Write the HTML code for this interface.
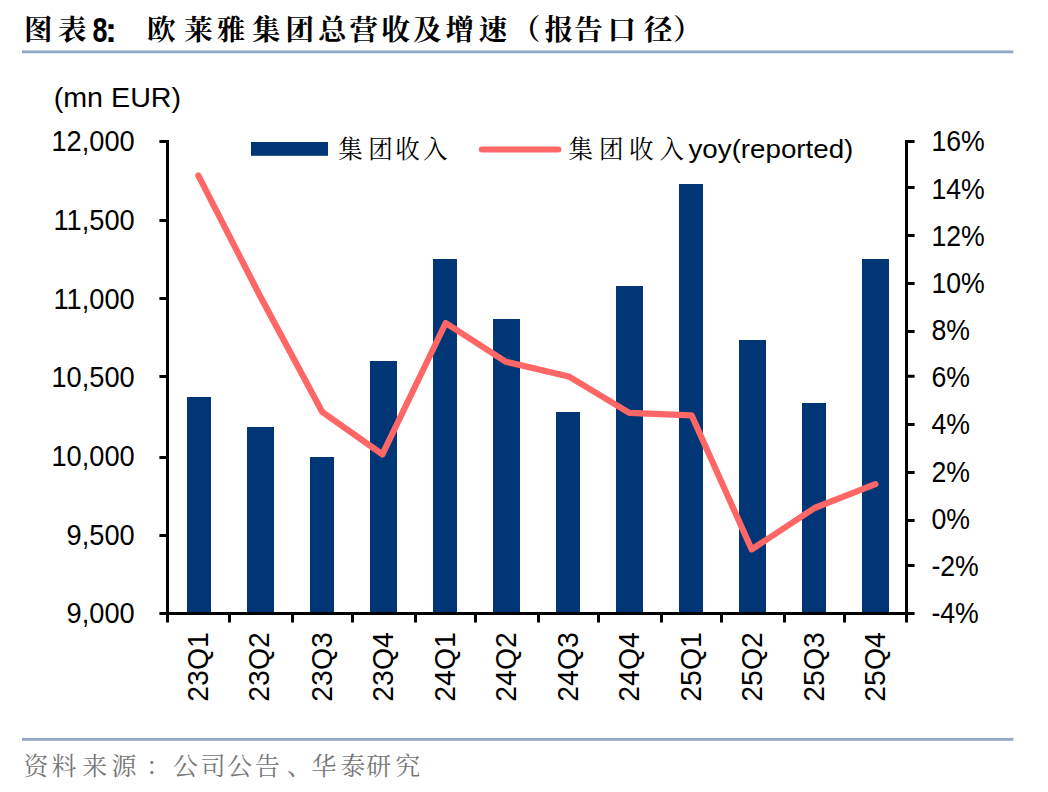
<!DOCTYPE html>
<html lang="zh-CN">
<head>
<meta charset="utf-8">
<title>图表8: 欧莱雅集团总营收及增速（报告口径）</title>
<style>
  html, body { margin: 0; padding: 0; background: #ffffff; }
  body { width: 1048px; height: 792px; overflow: hidden; position: relative; }
  svg { position: absolute; left: 0; top: 0; display: block; }
  text { white-space: pre; }
  .lat { font-family: "Liberation Sans", "Noto Sans CJK SC", sans-serif; fill: #000; }
  .kai { font-family: "Liberation Serif", "Noto Serif CJK SC", serif; fill: #000; }
  .ax  { font-size: 27.5px; }
  .title { font-weight: 700; font-size: 28.5px; }
  .src { font-size: 25px; fill: #777777; }
  .leg { font-size: 24.5px; }
</style>
</head>
<body>
<svg width="1048" height="792" viewBox="0 0 1048 792">
  <rect x="0" y="0" width="1048" height="792" fill="#ffffff"/>

  <!-- title -->
  <text class="kai title" y="39.65" x="24.1 58.1">图表</text>
  <text class="lat" font-size="32" font-weight="700" transform="translate(92.50 41.60) scale(0.8400 1.0900)" >8</text>
  <text class="lat" font-size="32" font-weight="700" transform="translate(104.90 41.60) scale(1.1200 1.0900)">:</text>
  <text class="kai title" y="39.65" x="147.1 184.25 216.85 252.0 285.4 318.1 349.45 381.55 413.05 445.55 478.75 511.85 544.5 574.2 607.45 644.1 673.15">欧莱雅集团总营收及增速（报告口径）</text>
  <!-- rules -->
  <rect x="22" y="50.4" width="991.3" height="2.9" fill="#93aac6"/>
  <rect x="22" y="737.9" width="991.3" height="2.9" fill="#93aac6"/>
  <!-- unit -->
  <text class="lat ax" transform="translate(53.70 107.10) scale(1.0425 1.0100)">(mn EUR)</text>
  <!-- bars -->
  <g fill="#003675">
    <rect x="187" y="397" width="24.0" height="216.4"/>
    <rect x="247" y="427" width="27.0" height="186.4"/>
    <rect x="310" y="457" width="24.0" height="156.4"/>
    <rect x="370" y="361" width="27.0" height="252.4"/>
    <rect x="433" y="259" width="24.0" height="354.4"/>
    <rect x="493" y="319" width="27.0" height="294.4"/>
    <rect x="556" y="412" width="24.0" height="201.4"/>
    <rect x="616" y="286" width="27.0" height="327.4"/>
    <rect x="679" y="184" width="24.0" height="429.4"/>
    <rect x="739" y="340" width="27.0" height="273.4"/>
    <rect x="802" y="403" width="24.0" height="210.4"/>
    <rect x="862" y="259" width="27.0" height="354.4"/>
  </g>
  <!-- axes -->
  <g stroke="#000" stroke-width="3" fill="none">
    <path d="M167.5 140 V615 M906.5 140 V615 M159.4 613.5 H914.6"/>
    <path d="M159.4 141.5 H167.5 M159.4 220.5 H167.5 M159.4 298.5 H167.5 M159.4 376.5 H167.5 M159.4 457.5 H167.5 M159.4 535.5 H167.5"/>
    <path d="M906.5 141.5 H914.6 M906.5 187.5 H914.6 M906.5 235.5 H914.6 M906.5 283.5 H914.6 M906.5 331.5 H914.6 M906.5 376.2 H914.6 M906.5 424.5 H914.6 M906.5 472.5 H914.6 M906.5 520.5 H914.6 M906.5 565.5 H914.6"/>
    <path d="M167.5 613.5 V622.4 M229.5 613.5 V622.4 M292.5 613.5 V622.4 M352.5 613.5 V622.4 M415.5 613.5 V622.4 M475.5 613.5 V622.4 M538.5 613.5 V622.4 M598.5 613.5 V622.4 M661.5 613.5 V622.4 M721.5 613.5 V622.4 M784.5 613.5 V622.4 M844.5 613.5 V622.4 M906.5 613.5 V622.4"/>
  </g>
  <!-- yoy line -->
  <polyline fill="none" stroke="#ff6666" stroke-width="6.2" stroke-linejoin="round" stroke-linecap="round" points="198.4,175.6 259.8,295.5 322.3,412 382.4,454.4 445.7,323 506,361.8 568.7,376.4 629.3,412.8 691.6,415.3 751.7,549.4 814.6,508 875.4,484.2"/>
  <!-- legend -->
  <rect x="251" y="142" width="77" height="13.8" fill="#003675"/>
  <text class="kai leg" y="157.8" x="338.35 368.15 395.15 422.9">集团收入</text>
  <path d="M481.8 149.4 H558.3" stroke="#ff6666" stroke-width="6" stroke-linecap="round" fill="none"/>
  <text class="kai leg" y="157.8" x="568.5 599.1 628.95 659.55">集团收入</text>
  <text class="lat ax" transform="translate(688.50 158.05) scale(1.0086 0.9300)">yoy(reported)</text>
  <!-- left axis labels -->
  <g class="lat ax" text-anchor="end">
    <text transform="translate(134.70 151.35) scale(0.9900 1.0400)">12,000</text>
    <text transform="translate(134.70 230.00) scale(0.9900 1.0400)">11,500</text>
    <text transform="translate(134.70 308.65) scale(0.9900 1.0400)">11,000</text>
    <text transform="translate(134.70 387.30) scale(0.9900 1.0400)">10,500</text>
    <text transform="translate(134.70 465.95) scale(0.9900 1.0400)">10,000</text>
    <text transform="translate(134.70 544.60) scale(0.9900 1.0400)">9,500</text>
    <text transform="translate(134.70 623.25) scale(0.9900 1.0400)">9,000</text>
  </g>
  <!-- right axis labels -->
  <g class="lat ax">
    <text transform="translate(931.40 151.35) scale(0.9700 1.0400)">16%</text>
    <text transform="translate(931.40 198.54) scale(0.9700 1.0400)">14%</text>
    <text transform="translate(931.40 245.73) scale(0.9700 1.0400)">12%</text>
    <text transform="translate(931.40 292.92) scale(0.9700 1.0400)">10%</text>
    <text transform="translate(931.40 340.11) scale(0.9700 1.0400)">8%</text>
    <text transform="translate(931.40 387.30) scale(0.9700 1.0400)">6%</text>
    <text transform="translate(931.40 434.49) scale(0.9700 1.0400)">4%</text>
    <text transform="translate(931.40 481.68) scale(0.9700 1.0400)">2%</text>
    <text transform="translate(931.40 528.87) scale(0.9700 1.0400)">0%</text>
    <text transform="translate(931.40 576.06) scale(0.9700 1.0400)">-2%</text>
    <text transform="translate(931.40 623.25) scale(0.9700 1.0400)">-4%</text>
  </g>
  <!-- x labels -->
  <g class="lat ax" text-anchor="end">
    <text transform="translate(207.80 632.20) rotate(-90) scale(1.0340 1.0400)">23Q1</text>
    <text transform="translate(269.30 632.20) rotate(-90) scale(1.0340 1.0400)">23Q2</text>
    <text transform="translate(331.60 632.20) rotate(-90) scale(1.0340 1.0400)">23Q3</text>
    <text transform="translate(392.90 632.20) rotate(-90) scale(1.0340 1.0400)">23Q4</text>
    <text transform="translate(455.20 632.20) rotate(-90) scale(1.0340 1.0400)">24Q1</text>
    <text transform="translate(516.40 632.20) rotate(-90) scale(1.0340 1.0400)">24Q2</text>
    <text transform="translate(578.20 632.20) rotate(-90) scale(1.0340 1.0400)">24Q3</text>
    <text transform="translate(639.40 632.20) rotate(-90) scale(1.0340 1.0400)">24Q4</text>
    <text transform="translate(701.20 632.20) rotate(-90) scale(1.0340 1.0400)">25Q1</text>
    <text transform="translate(762.20 632.20) rotate(-90) scale(1.0340 1.0400)">25Q2</text>
    <text transform="translate(823.90 632.20) rotate(-90) scale(1.0340 1.0400)">25Q3</text>
    <text transform="translate(885.20 632.20) rotate(-90) scale(1.0340 1.0400)">25Q4</text>
  </g>
  <!-- source -->
  <text class="kai src" y="774.5" x="23.5 51.5 82.2 111.5 146.0 172.85 200.5 226.95 255.0 287.0 311.5 340.2 366.2 395.3">资料来源：公司公告、华泰研究</text>
</svg>
</body>
</html>
